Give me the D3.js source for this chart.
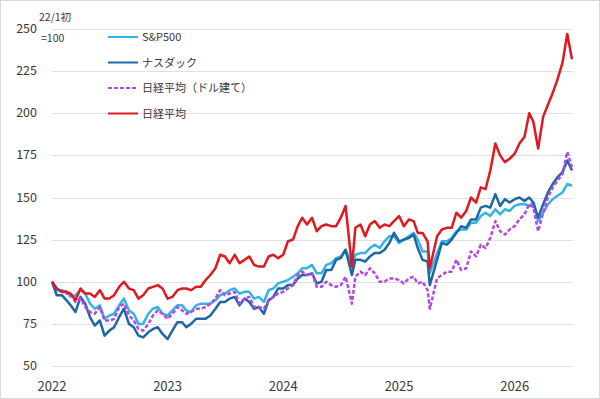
<!DOCTYPE html>
<html>
<head>
<meta charset="utf-8">
<script src="https://cdn.jsdelivr.net/npm/d3@7"></script>
<style>
  body { margin: 0; background: #fff; }
  svg { display: block; font-family: "Noto Sans CJK JP", "Noto Sans", sans-serif; }
</style>
</head>
<body>
<div id="chart"></div>
<script>
// half-monthly points, Jan 2022 .. Jul 2026 (22/1 = 100)
const spx = [
  100,95,95,94,91,92,95,93,87,84,86,78,
  80,81,86,90,83,81,75,75,81,84,85,81,
  80,83,86,86,83,82,86,87,87,87,89,92,
  93,95,96,93,94,94,90,91,88,95,96,99,
  100,101,103,105,108,108,110,105,105,110,111,114,
  115,119,110,116,117,117,120,122,120,124,127,127,
  123,125,127,129,125,118,118,105,117,124,124,126,
  130,131,131,135,135,139,141,139,143,140,143,142,
  145,146,146,145,147,136,141,146,149,151,153,158,
  157
];
const nasdaq = [
  100,92,92,89,86,82,91,87,79,74,77,68,
  71,73,79,84,75,73,68,67,70,72,73,69,
  66,71,76,76,73,75,78,78,78,80,84,88,
  88,90,91,86,90,88,84,85,81,89,91,96,
  96,98,98,102,104,104,105,99,100,107,107,113,
  114,119,104,113,113,112,115,117,117,119,123,129,
  124,125,126,128,120,113,112,98,113,123,122,125,
  129,133,132,137,137,144,145,144,152,145,149,147,
  149,150,148,150,147,138,146,153,158,162,165,172,
  166
];
const nikkeiUsd = [
  100,96,94,93,93,88,90,85,82,81,85,77,
  77,78,85,87,80,77,72,71,75,80,83,81,
  78,81,85,83,81,82,84,84,85,87,90,95,
  92,93,94,87,90,91,85,85,84,89,91,93,
  94,96,98,104,106,104,105,97,97,100,98,97,
  98,103,87,103,106,104,108,105,100,100,102,102,
  101,99,102,103,99,100,95,84,102,104,106,106,
  113,107,108,118,115,122,120,126,136,130,128,131,
  133,137,140,146,144,130,141,150,156,160,164,177,
  168
];
const nikkei = [
  100,96,94,94,93,89,96,93,93,91,95,90,
  90,92,97,100,96,95,90,92,96,97,98,96,
  90,91,95,96,96,95,97,97,101,104,108,116,
  115,111,116,111,113,115,110,109,109,115,116,114,
  116,124,125,133,138,134,138,130,133,134,133,133,
  138,145,109,132,134,127,134,136,132,134,133,136,
  139,133,137,136,129,129,124,108,127,131,132,132,
  141,138,142,150,147,156,155,166,182,175,171,173,
  176,182,186,200,195,179,198,205,212,220,230,247,
  232
];

const seriesNames = ["S&P500", "ナスダック", "日経平均（ドル建て）", "日経平均"];
const yTicks = [50, 75, 100, 125, 150, 175, 200, 225, 250];
const yearTicks = [2022, 2023, 2024, 2025, 2026];

// dates: 1st and 16th of each month, two event days pinned
const dates = d3.range(spx.length).map(k => new Date(2022, Math.floor(k / 2), k % 2 ? 16 : 1));
dates[62] = new Date(2024, 7, 5);
dates[79] = new Date(2025, 3, 8);

const width = 600, height = 399;

const svg = d3.select("#chart").append("svg")
  .attr("width", width)
  .attr("height", height);

svg.append("rect")
  .attr("x", 0.5).attr("y", 0.5)
  .attr("width", width - 1).attr("height", height - 1)
  .attr("fill", "#fff")
  .attr("stroke", "#d9d9d9");

const x = d3.scaleTime()
  .domain([new Date(2022, 0, 1), new Date(2026, 6, 1)])
  .range([52, 572]);

const y = d3.scaleLinear()
  .domain([50, 250])
  .range([366, 29]);

// gridlines
svg.append("g")
  .selectAll("line")
  .data(yTicks)
  .join("line")
  .attr("x1", 52).attr("x2", 573)
  .attr("y1", d => Math.round(y(d)) + 0.5)
  .attr("y2", d => Math.round(y(d)) + 0.5)
  .attr("stroke", "#e0e0e0")
  .attr("stroke-width", 1);

// y labels
svg.append("g")
  .selectAll("text")
  .data(yTicks)
  .join("text")
  .attr("x", 37)
  .attr("y", d => y(d) + 4)
  .attr("text-anchor", "end")
  .attr("font-size", 12.5)
  .attr("fill", "#383838")
  .text(d => d);

// x labels
svg.append("g")
  .selectAll("text")
  .data(yearTicks)
  .join("text")
  .attr("x", d => x(new Date(d, 0, 1)))
  .attr("y", 391)
  .attr("text-anchor", "middle")
  .attr("font-size", 13)
  .attr("fill", "#383838")
  .text(d => d);

// base note
svg.append("text").attr("x", 39).attr("y", 21)
  .attr("font-size", 10.5).attr("fill", "#383838").text("22/1初");
svg.append("text").attr("x", 41).attr("y", 42)
  .attr("font-size", 10.5).attr("fill", "#383838").text("=100");

const series = [
  { name: seriesNames[0], values: spx, color: "#33b4e6", dash: null },
  { name: seriesNames[1], values: nasdaq, color: "#1f66a6", dash: null },
  { name: seriesNames[2], values: nikkeiUsd, color: "#b448e0", dash: "4,2" },
  { name: seriesNames[3], values: nikkei, color: "#e0191f", dash: null }
];

const line = d3.line()
  .x((d, i) => x(dates[i]))
  .y(d => y(d));

svg.append("g")
  .selectAll("path")
  .data(series)
  .join("path")
  .attr("d", d => line(d.values))
  .attr("fill", "none")
  .attr("stroke", d => d.color)
  .attr("stroke-width", 2.5)
  .attr("stroke-linejoin", "round")
  .attr("stroke-dasharray", d => d.dash);

// legend
const legend = svg.append("g")
  .selectAll("g")
  .data(series)
  .join("g")
  .attr("transform", (d, i) => `translate(108, ${37 + i * 25.5})`);

legend.append("line")
  .attr("x1", 0).attr("x2", 30)
  .attr("stroke", d => d.color)
  .attr("stroke-width", 2)
  .attr("stroke-dasharray", d => d.dash);

legend.append("text")
  .attr("x", 34)
  .attr("y", 4)
  .attr("font-size", 11)
  .attr("fill", "#383838")
  .text(d => d.name);
</script>
</body>
</html>
